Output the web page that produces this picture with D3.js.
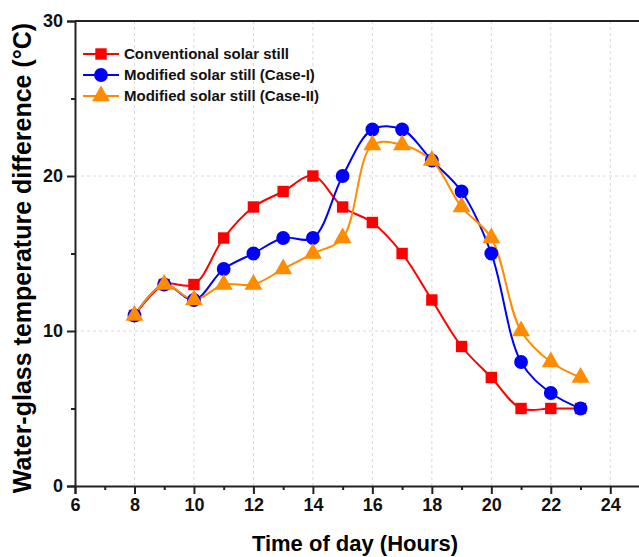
<!DOCTYPE html>
<html>
<head>
<meta charset="utf-8">
<script src="https://cdn.jsdelivr.net/npm/d3@7"></script>
<style>
  body { margin: 0; background: #fff; }
  svg { display: block; font-family: "Liberation Sans", Arial, sans-serif; }
</style>
</head>
<body>
<script>
// hours of the day
var hours = [8, 9, 10, 11, 12, 13, 14, 15, 16, 17, 18, 19, 20, 21, 22, 23];
var conventional = [11, 13, 13, 16, 18, 19, 20, 18, 17, 15, 12, 9, 7, 5, 5, 5];
var caseOne = [11, 13, 12, 14, 15, 16, 16, 20, 23, 23, 21, 19, 15, 8, 6, 5];
var caseTwo = [11, 13, 12, 13, 13, 14, 15, 16, 22, 22, 21, 18, 16, 10, 8, 7];
var seriesNames = ["Conventional solar still", "Modified solar still (Case-I)", "Modified solar still (Case-II)"];
var xTicks = [6, 8, 10, 12, 14, 16, 18, 20, 22, 24];
var yTicks = [0, 10, 20, 30];

var width = 639, height = 557;
var margin = {top: 21, right: 0, bottom: 71, left: 75};

var x = d3.scaleLinear().domain([6, 25]).range([margin.left, 640]);
var y = d3.scaleLinear().domain([0, 30]).range([height - margin.bottom, margin.top]);

var svg = d3.select("body").append("svg")
    .attr("width", width)
    .attr("height", height);

// grid
svg.append("g").selectAll("line")
    .data(xTicks.slice(1))
    .enter().append("line")
    .attr("x1", function(d) { return x(d); })
    .attr("x2", function(d) { return x(d); })
    .attr("y1", y(0)).attr("y2", y(30))
    .attr("stroke", "#d8d8d8").attr("stroke-dasharray", "3,3");
svg.append("g").selectAll("line")
    .data(yTicks.slice(1, 3))
    .enter().append("line")
    .attr("x1", x(6)).attr("x2", width)
    .attr("y1", function(d) { return y(d); })
    .attr("y2", function(d) { return y(d); })
    .attr("stroke", "#d8d8d8").attr("stroke-dasharray", "3,3");

// axes
var xAxis = d3.axisBottom(x).tickValues(d3.range(6, 25)).tickSize(8).tickPadding(4)
    .tickFormat(function(d) { return d % 2 === 0 ? d : ""; });
var gx = svg.append("g")
    .attr("transform", "translate(0," + y(0) + ")")
    .call(xAxis);
gx.selectAll(".tick line").attr("y2", function(d) { return d % 2 === 0 ? 8 : 4; });

var yAxis = d3.axisLeft(y).tickValues([0, 5, 10, 15, 20, 25, 30]).tickSize(8).tickPadding(4)
    .tickFormat(function(d) { return d % 10 === 0 ? d : ""; });
var gy = svg.append("g")
    .attr("transform", "translate(" + x(6) + ",0)")
    .call(yAxis);
gy.selectAll(".tick line").attr("x2", function(d) { return d % 10 === 0 ? -8 : -4; });

[gx, gy].forEach(function(g) {
    g.select(".domain").attr("stroke", "#222").attr("stroke-width", 2);
    g.selectAll(".tick line").attr("stroke", "#222").attr("stroke-width", 2);
    g.selectAll(".tick text").attr("fill", "#111")
        .style("font-size", "18px").style("font-weight", "bold");
});

// top border
svg.append("line")
    .attr("x1", x(6)).attr("x2", width)
    .attr("y1", y(30)).attr("y2", y(30))
    .attr("stroke", "#222").attr("stroke-width", 2);

// titles
svg.append("text")
    .attr("x", 355).attr("y", 551)
    .attr("text-anchor", "middle")
    .style("font-size", "22px").style("font-weight", "bold")
    .text("Time of day (Hours)");
svg.append("text")
    .attr("transform", "translate(31,258) rotate(-90)")
    .attr("text-anchor", "middle")
    .style("font-size", "25px").style("font-weight", "bold")
    .text("Water-glass temperature difference (\u00B0C)");

// series
var series = [
    {name: seriesNames[0], values: conventional, color: "#ff0000", shape: d3.symbolSquare, size: 130},
    {name: seriesNames[1], values: caseOne, color: "#0000ff", shape: d3.symbolCircle, size: 150},
    {name: seriesNames[2], values: caseTwo, color: "#ff8c00", shape: d3.symbolTriangle, size: 140}
];

var line = d3.line()
    .x(function(d) { return x(d[0]); })
    .y(function(d) { return y(d[1]); })
    .curve(d3.curveCatmullRom.alpha(0.5));

series.forEach(function(s) {
    var pts = hours.map(function(h, i) { return [h, s.values[i]]; });
    svg.append("path")
        .datum(pts)
        .attr("fill", "none")
        .attr("stroke", s.color)
        .attr("stroke-width", 2)
        .attr("d", line);
});
series.forEach(function(s) {
    var pts = hours.map(function(h, i) { return [h, s.values[i]]; });
    svg.append("g").selectAll("path")
        .data(pts)
        .enter().append("path")
        .attr("transform", function(d) { return "translate(" + x(d[0]) + "," + y(d[1]) + ")"; })
        .attr("d", d3.symbol().type(s.shape).size(s.size))
        .attr("fill", s.color);
});

// legend
var legend = svg.append("g").attr("transform", "translate(83,54)");
series.forEach(function(s, i) {
    var row = legend.append("g").attr("transform", "translate(0," + (i * 21) + ")");
    row.append("line").attr("x1", 0).attr("x2", 36).attr("y1", 0).attr("y2", 0)
        .attr("stroke", s.color).attr("stroke-width", 2);
    row.append("path").attr("transform", "translate(18,0)")
        .attr("d", d3.symbol().type(s.shape).size(s.size))
        .attr("fill", s.color);
    row.append("text").attr("x", 41).attr("y", 5)
        .style("font-size", "15px").style("font-weight", "bold")
        .attr("fill", "#111")
        .text(s.name);
});
</script>
</body>
</html>
